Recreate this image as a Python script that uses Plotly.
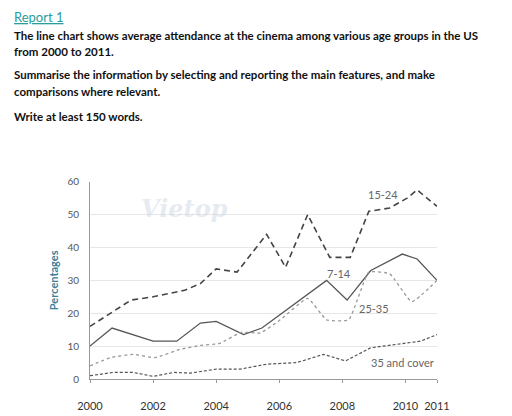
import plotly.graph_objects as go

# series: (fractional year, percentage)
x_15_24 = [2000, 2001.06, 2001.3, 2002, 2003, 2003.5, 2004, 2004.66, 2005.6, 2006.2, 2006.9, 2007.6, 2008.25, 2008.84, 2009.5, 2010.05, 2010.37, 2011]
y_15_24 = [16, 22.5, 24, 25, 27, 29, 33.5, 32.5, 44, 34, 50, 37, 37, 51, 52, 55, 57.5, 52.5]

x_7_14 = [2000, 2000.7, 2002, 2002.75, 2003.5, 2004, 2004.87, 2005.45, 2007.5, 2008.15, 2008.9, 2009.9, 2010.37, 2011]
y_7_14 = [10, 15.5, 11.5, 11.5, 17, 17.5, 13.5, 15.5, 30, 24, 33, 38, 36.5, 30]

x_25_35 = [2000, 2000.65, 2001.37, 2002.06, 2002.85, 2003.5, 2004.1, 2004.8, 2005.4, 2006.03, 2006.9, 2007.5, 2008.2, 2008.84, 2009.5, 2010.2, 2011]
y_25_35 = [4, 6.5, 7.5, 6.5, 9, 10.2, 10.8, 14.2, 14, 18, 24.5, 18, 18, 32.5, 32, 23.5, 30]

x_35 = [2000, 2000.74, 2001.37, 2002, 2002.65, 2003.17, 2004, 2004.76, 2005.6, 2006.56, 2007.4, 2008.1, 2008.9, 2009.63, 2010.48, 2011]
y_35 = [1, 2, 2, 0.8, 2, 1.8, 3, 3, 4.5, 5, 7.5, 5.5, 9.5, 10.5, 11.5, 13.5]

year_ticks = [2000, 2002, 2004, 2006, 2008, 2010, 2011]
pct_ticks = [0, 10, 20, 30, 40, 50, 60]

fig = go.Figure()
fig.add_trace(go.Scatter(x=x_15_24, y=y_15_24, mode='lines',
                         line=dict(color='#444', width=1.6, dash='6px,4px')))
fig.add_trace(go.Scatter(x=x_7_14, y=y_7_14, mode='lines',
                         line=dict(color='#555', width=1.3)))
fig.add_trace(go.Scatter(x=x_25_35, y=y_25_35, mode='lines',
                         line=dict(color='#999', width=1.3, dash='dot', shape='spline', smoothing=0.4)))
fig.add_trace(go.Scatter(x=x_35, y=y_35, mode='lines',
                         line=dict(color='#555', width=1.2, dash='3px,2px')))

label_font = dict(family='Lato', size=11, color='#666')
for txt, lx, ly in [('15-24', 2009.3, 56), ('7-14', 2007.9, 32), ('25-35', 2009.0, 21.5), ('35 and cover', 2009.9, 5)]:
    fig.add_annotation(x=lx, y=ly, text=txt, showarrow=False, font=label_font)

fig.add_annotation(x=2003, y=52, text='<i><b>Vietop</b></i>', showarrow=False,
                   font=dict(family='DejaVu Serif', size=24, color='rgba(200,210,225,0.45)'))

txt_font = dict(family='Lato', size=11.5, color='#111')
fig.add_annotation(xref='paper', yref='paper', x=-0.225, y=0.994, text='<u>Report 1</u>', showarrow=False,
                   xanchor='left', yanchor='middle', font=dict(family='Lato', size=13, color='#2a9d9f'))
body = [
    ('<b>The line chart shows average attendance at the cinema among various age groups in the US</b>', 0.945),
    ('<b>from 2000 to 2011.</b>', 0.899),
    ('<b>Summarise the information by selecting and reporting the main features, and make</b>', 0.836),
    ('<b>comparisons where relevant.</b>', 0.790),
    ('<b>Write at least 150 words.</b>', 0.722),
]
for t, yy in body:
    fig.add_annotation(xref='paper', yref='paper', x=-0.225, y=yy, text=t, showarrow=False,
                       xanchor='left', yanchor='middle', font=txt_font)

fig.update_layout(
    width=504, height=408, showlegend=False,
    margin=dict(l=82, r=75, t=0, b=37),
    paper_bgcolor='white', plot_bgcolor='white',
    xaxis=dict(range=[2000, 2011], tickvals=year_ticks, showgrid=False, zeroline=False,
               showline=True, linecolor='#999', ticks='outside', ticklen=3, tickcolor='#999',
               ticklabelstandoff=14, tickfont=dict(family='Lato', size=11, color='#333'),
               tickprefix='<b>', ticksuffix='</b>'),
    yaxis=dict(range=[0, 60], tickvals=pct_ticks, showgrid=True, gridcolor='#e6e6e6', zeroline=False,
               domain=[0, 0.542],
               showline=True, linecolor='#999', tickfont=dict(family='Lato', size=10, color='#555'),
               ticklabelstandoff=8,
               title=dict(text='<b>Percentages</b>', font=dict(family='Lato', size=11, color='#3a7f9b'), standoff=6)),
)
fig.write_html("out.html")
